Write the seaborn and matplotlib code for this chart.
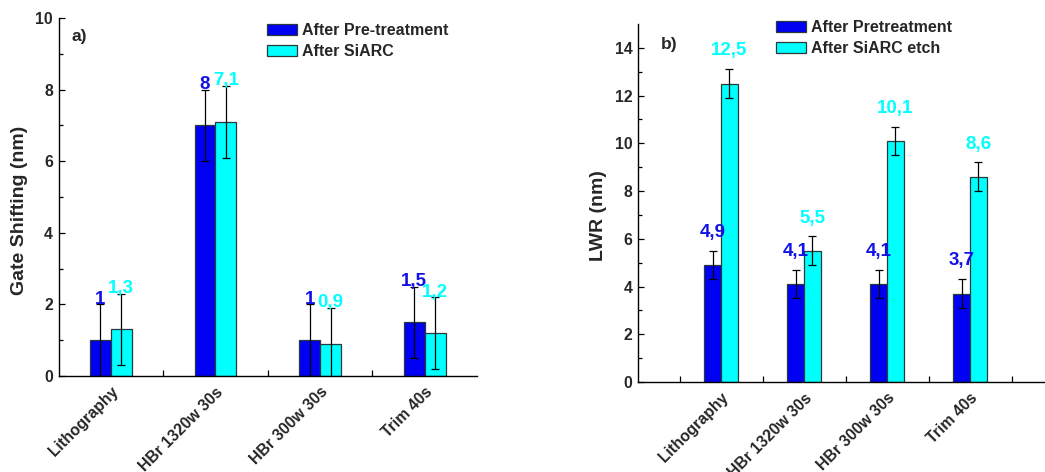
import numpy as np
import pandas as pd
import matplotlib
matplotlib.use("Agg")
import matplotlib.pyplot as plt
import matplotlib.transforms as mtransforms
from matplotlib.patches import Patch
from matplotlib.container import BarContainer
import seaborn as sns

# ---------------- data ----------------
categories = ["Lithography", "HBr 1320w 30s", "HBr 300w 30s", "Trim 40s"]

# panel a) Gate shifting
a_series = ["After Pre-treatment", "After SiARC"]
a_pre = [1.0, 7.0, 1.0, 1.5]
a_siarc = [1.3, 7.1, 0.9, 1.2]
a_pre_err = [1.0, 1.0, 1.0, 1.0]
a_siarc_err = [1.0, 1.0, 1.0, 1.0]
a_pre_labels = ["1", "8", "1", "1,5"]
a_siarc_labels = ["1,3", "7,1", "0,9", "1,2"]

# panel b) LWR
b_series = ["After Pretreatment", "After SiARC etch"]
b_pre = [4.9, 4.1, 4.1, 3.7]
b_siarc = [12.5, 5.5, 10.1, 8.6]
b_pre_err = [0.6, 0.6, 0.6, 0.6]
b_siarc_err = [0.6, 0.6, 0.6, 0.6]
b_pre_labels = ["4,9", "4,1", "4,1", "3,7"]
b_siarc_labels = ["12,5", "5,5", "10,1", "8,6"]

# ---------------- style ----------------
sns.set_theme(style="white")
plt.rcParams["font.family"] = ["Liberation Sans", "DejaVu Sans"]
plt.rcParams["font.weight"] = "bold"

BLUE = "#0000F2"
CYAN = "#00FFFF"
TXT_BLUE = "#1212E8"
EDGE = "#2a3a3a"

fig = plt.figure(figsize=(10.45, 4.72), dpi=100)
axA = fig.add_axes([58.5 / 1045, 96 / 472, 418.5 / 1045, 358 / 472])
axB = fig.add_axes([638 / 1045, 90 / 472, 415 / 1045, 358 / 472])


def panel(ax, series, pre, siarc, pre_err, siarc_err, pre_lab, siarc_lab,
          ylim, yticks, yminor, xlim, xminor, ylabel, ylabel_xy, tag, tagpos,
          lab_offset, legend_anchor):
    df = pd.DataFrame({
        "cat": categories * 2,
        "val": list(pre) + list(siarc),
        "series": [series[0]] * len(categories) + [series[1]] * len(categories),
    })
    sns.barplot(data=df, x="cat", y="val", hue="series", order=categories,
                hue_order=series, palette=[BLUE, CYAN], saturation=1,
                width=0.4, errorbar=None, edgecolor=EDGE, linewidth=0.9,
                legend=False, ax=ax, zorder=2)
    errs = [pre_err, siarc_err]
    labs = [pre_lab, siarc_lab]
    cols = [TXT_BLUE, CYAN]
    bar_conts = [c for c in ax.containers if isinstance(c, BarContainer)]
    for k, cont in enumerate(bar_conts):
        for j, bar in enumerate(cont.patches):
            xc = bar.get_x() + bar.get_width() / 2
            h = bar.get_height()
            e = errs[k][j]
            ax.errorbar(xc, h, yerr=e, fmt="none", ecolor="black",
                        elinewidth=0.9, capsize=3.2, capthick=0.9, zorder=3,
                        clip_on=True)
            ax.annotate(labs[k][j], xy=(xc, h + e), xytext=(0, lab_offset),
                        textcoords="offset points", ha="center", va="baseline",
                        color=cols[k], fontsize=13.5, fontweight="bold",
                        zorder=4, annotation_clip=False)

    ax.set_ylim(*ylim)
    ax.set_xlim(*xlim)
    ax.set_yticks(yticks)
    ax.set_yticks(yminor, minor=True)
    ax.set_xticks(range(len(categories)))
    ax.set_xticks(xminor, minor=True)
    ax.set_xticklabels(categories, rotation=45, ha="right",
                       rotation_mode="anchor", fontsize=11.3, fontweight="bold")
    offset = mtransforms.ScaledTranslation(8 / 100, 0, fig.dpi_scale_trans)
    for t in ax.get_xticklabels():
        t.set_transform(t.get_transform() + offset)
    for t in ax.get_yticklabels():
        t.set_fontsize(11.3)
        t.set_fontweight("bold")
    ax.tick_params(axis="x", which="major", length=0, pad=6)
    ax.tick_params(axis="x", which="minor", direction="in", length=4,
                   width=0.9, color="black", bottom=True)
    ax.tick_params(axis="y", which="major", direction="in", length=4,
                   width=0.9, color="black", pad=4, left=True)
    ax.tick_params(axis="y", which="minor", direction="in", length=3,
                   width=0.9, color="black", left=True)
    for s in ["top", "right"]:
        ax.spines[s].set_visible(False)
    for s in ["left", "bottom"]:
        ax.spines[s].set_color("black")
        ax.spines[s].set_linewidth(1.0)
    ax.set_xlabel("")
    ax.set_ylabel(ylabel, fontsize=14, fontweight="bold")
    ax.yaxis.set_label_coords(*ylabel_xy)
    ax.text(tagpos[0], tagpos[1], tag, transform=ax.transAxes,
            fontsize=12.5, fontweight="bold", ha="left", va="center")
    handles = [Patch(facecolor=BLUE, edgecolor=EDGE, linewidth=0.9),
               Patch(facecolor=CYAN, edgecolor=EDGE, linewidth=0.9)]
    ax.legend(handles, series, loc="upper left", bbox_to_anchor=legend_anchor,
              bbox_transform=fig.transFigure, frameon=False,
              prop={"weight": "bold", "size": 11.5}, handlelength=1.85,
              handleheight=0.75, handletextpad=0.35, labelspacing=0.38,
              borderpad=0, borderaxespad=0)


panel(axA, a_series, a_pre, a_siarc, a_pre_err, a_siarc_err,
      a_pre_labels, a_siarc_labels,
      ylim=(0, 10), yticks=[0, 2, 4, 6, 8, 10], yminor=[1, 3, 5, 7, 9],
      xlim=(-0.5, 3.5), xminor=[0.5, 1.5, 2.5],
      ylabel="Gate Shifting (nm)",
      ylabel_xy=((28 - 58.5) / 418.5, (376 - 210.5) / 358),
      tag="a)",
      tagpos=((72 - 58.5) / 418.5, (376 - 36) / 358),
      lab_offset=0.5, legend_anchor=(267 / 1045, 1 - 23 / 472))

panel(axB, b_series, b_pre, b_siarc, b_pre_err, b_siarc_err,
      b_pre_labels, b_siarc_labels,
      ylim=(0, 15), yticks=[0, 2, 4, 6, 8, 10, 12, 14],
      yminor=[1, 3, 5, 7, 9, 11, 13],
      xlim=(-1, 4), xminor=[-0.5, 0.5, 1.5, 2.5, 3.5],
      ylabel="LWR (nm)",
      ylabel_xy=((607 - 638) / 415, (382 - 216) / 358),
      tag="b)",
      tagpos=((661 - 638) / 415, (382 - 44) / 358),
      lab_offset=10, legend_anchor=(776 / 1045, 1 - 20 / 472))

fig.savefig("out.png", dpi=100)
